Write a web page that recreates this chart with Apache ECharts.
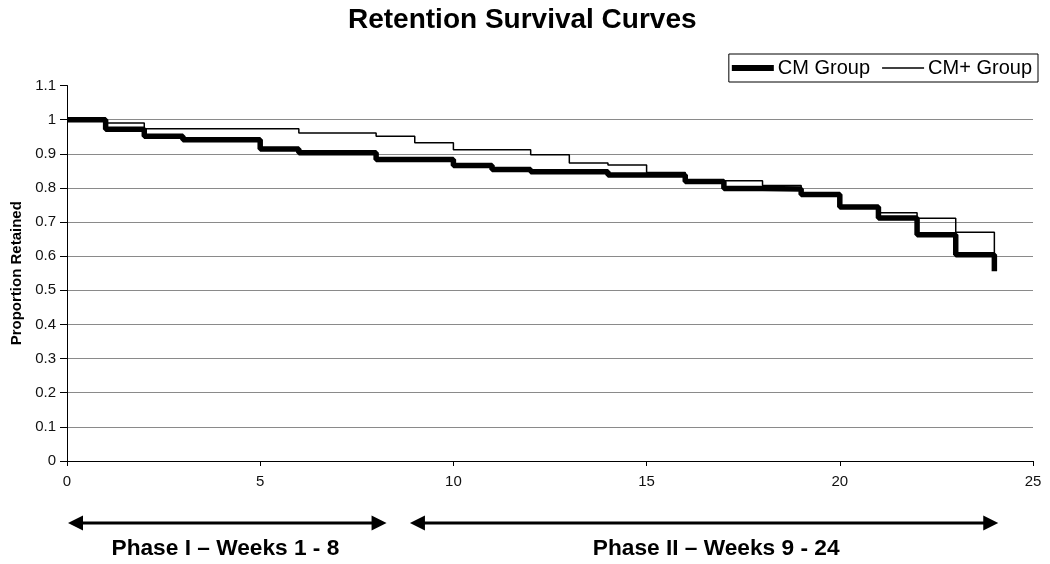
<!DOCTYPE html>
<html>
<head>
<meta charset="utf-8">
<script src="https://cdn.jsdelivr.net/npm/echarts@6/dist/echarts.min.js"></script>
<style>
  html, body { margin: 0; padding: 0; background: #fff; }
  #chart { width: 1050px; height: 564px; }
</style>
</head>
<body>
<div id="chart"></div>
<script>
// ---- data ----
const weeks = [0, 1, 2, 3, 4, 5, 6, 7, 8, 9, 10, 11, 12, 13, 14, 15, 16, 17, 18, 19, 20, 21, 22, 23, 24];
const cmGroup = [1.0, 0.972, 0.951, 0.941, 0.941, 0.914, 0.903, 0.903, 0.883, 0.883, 0.866, 0.854, 0.847, 0.847, 0.838, 0.838, 0.819, 0.798, 0.797, 0.781, 0.744, 0.712, 0.663, 0.604, 0.556];
const cmPlusGroup = [1.0, 0.99, 0.973, 0.973, 0.973, 0.973, 0.961, 0.961, 0.951, 0.932, 0.912, 0.912, 0.897, 0.873, 0.867, 0.845, 0.821, 0.821, 0.807, 0.785, 0.745, 0.727, 0.711, 0.670, 0.605];
const seriesNames = ['CM Group', 'CM+ Group'];
const phaseLabels = ['Phase I \u2013 Weeks 1 - 8', 'Phase II \u2013 Weeks 9 - 24'];
const phaseStart = [0.0, 8.85];
const phaseEnd = [8.27, 24.1];
const phaseLabelX = [4.1, 16.8];

const FONT = '"Liberation Sans", Arial, Helvetica, sans-serif';
const chart = echarts.init(document.getElementById('chart'), null, { renderer: 'canvas' });

const splitColors = [];
for (let i = 0; i <= 11; i++) splitColors.push(i === 11 ? 'rgba(0,0,0,0)' : '#8a8a8a');

chart.setOption({
  animation: false,
  backgroundColor: '#ffffff',
  title: {
    text: 'Retention Survival Curves',
    left: 343,
    top: 1,
    textStyle: { fontFamily: FONT, fontWeight: 'bold', fontSize: 28, color: '#000' }
  },
  legend: {
    data: [
      { name: seriesNames[0], icon: 'path://M0,0 H42 V6 H0 Z', itemStyle: { color: '#000', borderWidth: 0 } },
      { name: seriesNames[1], icon: 'path://M0,0 H42 V1.5 H0 Z', itemStyle: { color: '#000', borderWidth: 0 } }
    ],
    right: 12,
    top: 54,
    orient: 'horizontal',
    borderColor: '#000',
    borderWidth: 1,
    borderRadius: 0,
    padding: [4, 6, 4, 3],
    itemWidth: 42,
    itemHeight: 14,
    itemGap: 12,
    symbolKeepAspect: true,
    textStyle: { fontFamily: FONT, fontSize: 20, color: '#000', padding: [0, 0, 0, -1] }
  },
  grid: { left: 67, right: 17, top: 85.5, bottom: 103, containLabel: false, outerBoundsMode: 'none' },
  xAxis: {
    type: 'value',
    min: 0,
    max: 25,
    interval: 5,
    axisLine: { show: true, lineStyle: { color: '#000', width: 1 } },
    axisTick: { show: true, length: 5, lineStyle: { color: '#000' } },
    axisLabel: { fontFamily: FONT, fontSize: 15, color: '#111', margin: 13 },
    splitLine: { show: false }
  },
  yAxis: {
    type: 'value',
    min: 0,
    max: 1.1,
    interval: 0.1,
    name: 'Proportion Retained',
    nameLocation: 'middle',
    nameRotate: 90,
    nameGap: 41,
    nameTextStyle: { fontFamily: FONT, fontWeight: 'bold', fontSize: 15, color: '#000' },
    axisLine: { show: true, lineStyle: { color: '#000', width: 1 } },
    axisTick: { show: true, length: 7, lineStyle: { color: '#000' } },
    axisLabel: { fontFamily: FONT, fontSize: 15, color: '#111', margin: 11 },
    splitLine: { show: true, lineStyle: { color: splitColors, width: 1 } }
  },
  series: [
    {
      name: seriesNames[0],
      type: 'line',
      step: 'end',
      symbol: 'none',
      showSymbol: false,
      data: weeks.map((w, i) => [w, cmGroup[i]]),
      lineStyle: { color: '#000', width: 5.5 },
      itemStyle: { color: '#000' },
      z: 2
    },
    {
      name: seriesNames[1],
      type: 'line',
      step: 'end',
      symbol: 'none',
      showSymbol: false,
      data: weeks.map((w, i) => [w, cmPlusGroup[i]]),
      lineStyle: { color: '#000', width: 1.5 },
      itemStyle: { color: '#000' },
      z: 3
    }
  ]
});

// Phase arrows and labels below the axis, positioned through the x scale
function px(v) { return chart.convertToPixel({ xAxisIndex: 0 }, v); }
const arrowY = 523;
const labelY = 549;
const graphics = [];
phaseLabels.forEach((lab, i) => {
  const x1 = px(phaseStart[i]) + 1;
  const x2 = px(phaseEnd[i]);
  graphics.push({ type: 'line', shape: { x1: x1 + 10, y1: arrowY, x2: x2 - 10, y2: arrowY }, style: { stroke: '#000', lineWidth: 3 } });
  graphics.push({ type: 'polygon', shape: { points: [[x1, arrowY], [x1 + 15, arrowY - 7.5], [x1 + 15, arrowY + 7.5]] }, style: { fill: '#000' } });
  graphics.push({ type: 'polygon', shape: { points: [[x2, arrowY], [x2 - 15, arrowY - 7.5], [x2 - 15, arrowY + 7.5]] }, style: { fill: '#000' } });
  graphics.push({
    type: 'text',
    x: px(phaseLabelX[i]),
    y: labelY,
    style: { text: lab, fill: '#000', font: 'bold 22.7px ' + FONT, textAlign: 'center', textVerticalAlign: 'middle' }
  });
});
chart.setOption({ graphic: graphics });
</script>
</body>
</html>
